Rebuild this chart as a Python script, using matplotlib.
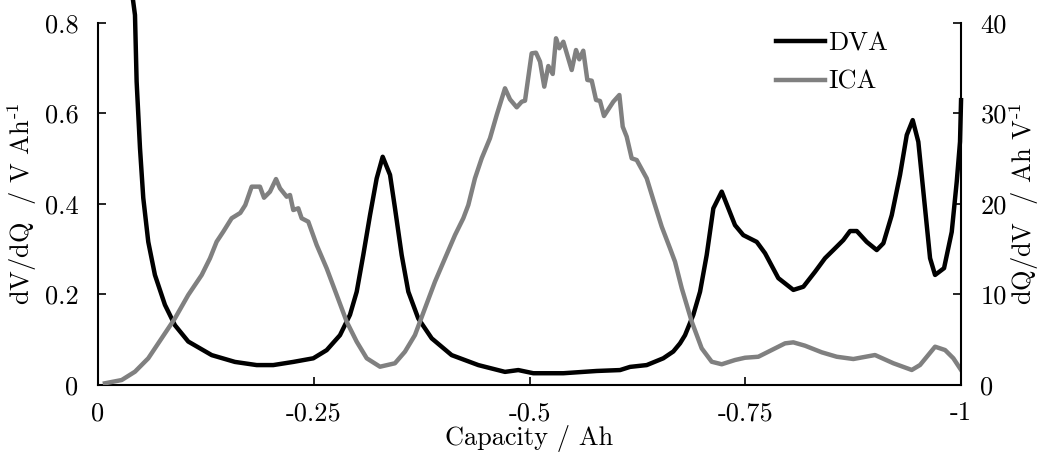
import matplotlib
matplotlib.use("Agg")
import matplotlib.pyplot as plt

plt.rcParams['font.family'] = 'cmr10'
plt.rcParams['mathtext.fontset'] = 'cm'
plt.rcParams['axes.unicode_minus'] = False
plt.rcParams['font.size'] = 19

# DVA curve (left axis): capacity in Ah, dV/dQ in V/Ah
dva_capacity = [-0.0406, -0.0429, -0.0448, -0.0487, -0.0525, -0.0583, -0.0660, -0.0776, -0.0892,
                -0.1046, -0.1318, -0.1587, -0.1839, -0.2031, -0.2263, -0.2495, -0.2650, -0.2804,
                -0.2920, -0.2998, -0.3074, -0.3152, -0.3229, -0.3299, -0.3384, -0.3441, -0.3519,
                -0.3596, -0.3711, -0.3867, -0.4098, -0.4407, -0.4716, -0.4870, -0.5044, -0.5392,
                -0.5779, -0.6049, -0.6165, -0.6358, -0.6550, -0.6666, -0.6744, -0.6802, -0.6898,
                -0.6976, -0.7053, -0.7130, -0.7227, -0.7304, -0.7381, -0.7477, -0.7633, -0.7729,
                -0.7883, -0.8057, -0.8173, -0.8308, -0.8424, -0.8520, -0.8636, -0.8714, -0.8792,
                -0.8907, -0.9023, -0.9100, -0.9197, -0.9293, -0.9371, -0.9440, -0.9505, -0.9583,
                -0.9641, -0.9699, -0.9803, -0.9892, -0.9950, -0.9988, -1.0]
dva_values = [0.850, 0.817, 0.670, 0.523, 0.413, 0.316, 0.243, 0.177, 0.132,
              0.096, 0.066, 0.051, 0.044, 0.044, 0.051, 0.059, 0.077, 0.110,
              0.155, 0.206, 0.287, 0.375, 0.456, 0.504, 0.464, 0.391, 0.287,
              0.206, 0.147, 0.103, 0.066, 0.044, 0.029, 0.033, 0.026, 0.026,
              0.031, 0.033, 0.040, 0.044, 0.059, 0.074, 0.092, 0.110, 0.155,
              0.206, 0.287, 0.390, 0.427, 0.390, 0.353, 0.331, 0.316, 0.291,
              0.236, 0.210, 0.217, 0.250, 0.280, 0.298, 0.320, 0.340, 0.340,
              0.316, 0.298, 0.313, 0.375, 0.464, 0.552, 0.585, 0.537, 0.390,
              0.280, 0.243, 0.258, 0.338, 0.449, 0.537, 0.629]

# ICA curve (right axis): capacity in Ah, dQ/dV in Ah/V
ica_capacity = [-0.0081, -0.0275, -0.0429, -0.0583, -0.0738, -0.0892, -0.1046, -0.1202, -0.1298,
                -0.1375, -0.1452, -0.1549, -0.1649, -0.1707, -0.1781, -0.1877, -0.1924, -0.1993,
                -0.2063, -0.2109, -0.2187, -0.2225, -0.2263, -0.2321, -0.2360, -0.2437, -0.2534,
                -0.2650, -0.2766, -0.2882, -0.2998, -0.3114, -0.3268, -0.3441, -0.3557, -0.3673,
                -0.3789, -0.3905, -0.4021, -0.4137, -0.4233, -0.4291, -0.4368, -0.4446, -0.4542,
                -0.4620, -0.4716, -0.4774, -0.4852, -0.4910, -0.4948, -0.5025, -0.5075, -0.5122,
                -0.5171, -0.5218, -0.5269, -0.5307, -0.5345, -0.5392, -0.5489, -0.5539, -0.5577,
                -0.5623, -0.5670, -0.5721, -0.5771, -0.5817, -0.5863, -0.5971, -0.6041, -0.6080,
                -0.6126, -0.6184, -0.6242, -0.6358, -0.6435, -0.6532, -0.6628, -0.6686, -0.6764,
                -0.6880, -0.6995, -0.7111, -0.7227, -0.7381, -0.7497, -0.7651, -0.7806, -0.7961,
                -0.8057, -0.8192, -0.8386, -0.8560, -0.8752, -0.9003, -0.9216, -0.9429, -0.9525,
                -0.9699, -0.9815, -0.9911, -1.0]
ica_values = [0.19, 0.55, 1.47, 2.95, 5.16, 7.36, 9.94, 12.15, 13.99,
              15.82, 16.93, 18.41, 19.00, 19.87, 21.90, 21.90, 20.68, 21.34,
              22.74, 21.72, 20.79, 20.98, 19.32, 19.51, 18.41, 18.03, 15.46,
              12.88, 9.94, 6.99, 4.78, 2.95, 2.02, 2.40, 3.68, 5.52,
              8.47, 11.41, 13.99, 16.56, 18.41, 19.87, 22.82, 25.03, 27.24,
              29.81, 32.76, 31.54, 30.66, 31.28, 31.39, 36.62, 36.69, 35.70,
              32.94, 35.22, 34.34, 38.28, 37.18, 37.90, 34.78, 36.99, 35.96,
              36.91, 33.68, 33.60, 31.47, 31.36, 29.70, 31.28, 32.02, 28.52,
              27.42, 25.03, 24.84, 22.82, 20.43, 17.48, 15.09, 13.61, 10.68,
              6.99, 4.05, 2.57, 2.29, 2.76, 3.01, 3.12, 3.86, 4.60,
              4.71, 4.34, 3.61, 3.12, 2.87, 3.31, 2.40, 1.66, 2.21,
              4.23, 3.86, 2.95, 1.66]

x_ticks = [0, -0.25, -0.5, -0.75, -1]
x_tick_labels = ['0', '-0.25', '-0.5', '-0.75', '-1']
left_ticks = [0, 0.2, 0.4, 0.6, 0.8]
left_tick_labels = ['0', '0.2', '0.4', '0.6', '0.8']
right_ticks = [0, 10, 20, 30, 40]

fig = plt.figure(figsize=(10.41, 4.59), dpi=100)
ax = fig.add_axes([0.0941, 0.1612, 0.8291, 0.7893])
ax2 = ax.twinx()

line_dva, = ax.plot(dva_capacity, dva_values, color='black', lw=3.2, clip_on=False,
                    solid_joinstyle='round', label='DVA')
line_ica, = ax2.plot(ica_capacity, ica_values, color='#808080', lw=3.2,
                     solid_joinstyle='round', label='ICA')

ax.set_xlim(0, -1)
ax.set_ylim(0, 0.8)
ax2.set_ylim(0, 40)

ax.set_xticks(x_ticks)
ax.set_xticklabels(x_tick_labels)
ax.set_yticks(left_ticks)
ax.set_yticklabels(left_tick_labels)
ax2.set_yticks(right_ticks)
ax2.set_yticklabels([str(t) for t in right_ticks])

for a in (ax, ax2):
    a.spines['top'].set_visible(False)
    for s in a.spines.values():
        s.set_linewidth(1.5)
ax.spines['right'].set_visible(False)
ax2.spines['left'].set_visible(False)
ax2.spines['bottom'].set_visible(False)

ax.tick_params(axis='x', direction='in', length=6, width=1.2, pad=12)
ax.tick_params(axis='y', direction='in', length=6, width=1.2, pad=14)
ax2.tick_params(axis='y', direction='in', length=6, width=1.2, pad=14)

ax.set_xlabel('Capacity / Ah', labelpad=0)
ax.set_ylabel(r'dV/dQ  / V Ah$^{\text{-1}}$', labelpad=4)
ax2.set_ylabel(r'dQ/dV  / Ah V$^{\text{-1}}$', labelpad=0)

ax2.legend([line_dva, line_ica], ['DVA', 'ICA'], loc='upper left',
           bbox_to_anchor=(0.786, 0.975), frameon=False, borderpad=0,
           borderaxespad=0, handlelength=1.85, handletextpad=0.12,
           labelspacing=0.55, fontsize=19)

plt.savefig('out.png', dpi=100)
plt.close()
